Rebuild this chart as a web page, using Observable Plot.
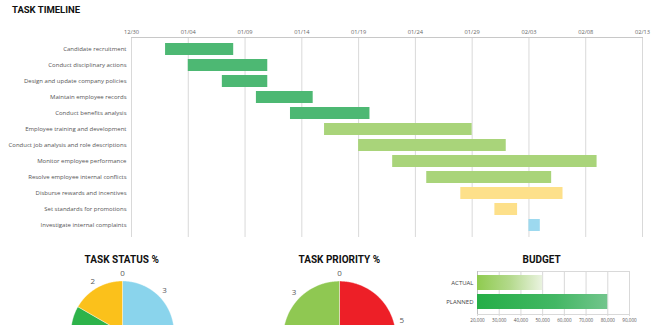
<!DOCTYPE html>
<html>
<head>
<meta charset="utf-8">
<script src="https://cdn.jsdelivr.net/npm/d3@7"></script>
<script src="https://cdn.jsdelivr.net/npm/@observablehq/plot@0.6"></script>
<style>
  body { margin: 0; background: #fff; }
  #root { position: relative; width: 667px; height: 325px; overflow: hidden; background: #fff; font-family: "Open Sans", sans-serif; }
  .abs { position: absolute; }
  .ttl { position: absolute; font-family: Roboto, sans-serif; font-weight: 700; color: #111; white-space: nowrap; line-height: 12px; height: 12px; }
  .ctr { transform: translateX(-50%); }
</style>
</head>
<body>
<div id="root">
  <svg class="abs" width="0" height="0" style="left:0;top:0">
    <defs>
      <linearGradient id="gActual" x1="0" x2="1" y1="0" y2="0">
        <stop offset="0" stop-color="#8fcb4f"/>
        <stop offset="0.5" stop-color="#b3d98b"/>
        <stop offset="1" stop-color="#eaf3e0"/>
      </linearGradient>
      <linearGradient id="gPlanned" x1="0" x2="1" y1="0" y2="0">
        <stop offset="0" stop-color="#25ae47"/>
        <stop offset="0.6" stop-color="#43b764"/>
        <stop offset="1" stop-color="#72c58c"/>
      </linearGradient>
    </defs>
  </svg>
  <div class="ttl" style="left:12px;top:4px;font-size:9.5px;">TASK TIMELINE</div>
  <div id="gantt" class="abs" style="left:0;top:0"></div>
  <div class="ttl ctr" style="left:121.7px;top:254px;font-size:10px;">TASK STATUS %</div>
  <div id="pie1" class="abs"></div>
  <div class="ttl ctr" style="left:339.3px;top:254px;font-size:10px;">TASK PRIORITY %</div>
  <div id="pie2" class="abs"></div>
  <div class="ttl ctr" style="left:541.7px;top:254px;font-size:10px;">BUDGET</div>
  <div id="budget" class="abs" style="left:420px;top:262px"></div>
</div>
<script>
// ---------- DATA ----------
const tasks = [
  "Candidate recruitment",
  "Conduct disciplinary actions",
  "Design and update company policies",
  "Maintain employee records",
  "Conduct benefits analysis",
  "Employee training and development",
  "Conduct job analysis and role descriptions",
  "Monitor employee performance",
  "Resolve employee internal conflicts",
  "Disburse rewards and incentives",
  "Set standards for promotions",
  "Investigate internal complaints"
];
const taskStarts = ["2020-01-02","2020-01-04","2020-01-07","2020-01-10","2020-01-13","2020-01-16",
                    "2020-01-19","2020-01-22","2020-01-25","2020-01-28","2020-01-31","2020-02-03"];
const taskEnds   = ["2020-01-08","2020-01-11","2020-01-11","2020-01-15","2020-01-20","2020-01-29",
                    "2020-02-01","2020-02-09","2020-02-05","2020-02-06","2020-02-02","2020-02-04"];
const taskPhases = ["Phase 1","Phase 1","Phase 1","Phase 1","Phase 1","Phase 2",
                    "Phase 2","Phase 2","Phase 2","Phase 3","Phase 3","Phase 4"];
const phases = ["Phase 1","Phase 2","Phase 3","Phase 4"];
const timelineTicks = ["2019-12-30","2020-01-04","2020-01-09","2020-01-14","2020-01-19",
                       "2020-01-24","2020-01-29","2020-02-03","2020-02-08","2020-02-13"];

const statusLabels = ["Complete","In progress","Not started","Overdue","On hold"];
const statusValues = [3, 4, 3, 2, 0];
const priorityLabels = ["High","Medium","Low","None"];
const priorityValues = [5, 4, 3, 0];

const budgetCategories = ["ACTUAL","PLANNED"];
const budgetValues = [50000, 80000];
const budgetTicks = [20000,30000,40000,50000,60000,70000,80000,90000];

// ---------- GANTT ----------
const toDate = s => new Date(s + "T00:00:00Z");
const ganttData = tasks.map((t, i) => ({task: t, start: toDate(taskStarts[i]), end: toDate(taskEnds[i]), phase: taskPhases[i]}));
const tickDates = timelineTicks.map(toDate);

const gantt = Plot.plot({
  width: 667, height: 240,
  marginLeft: 131, marginRight: 25, marginTop: 37, marginBottom: 3,
  style: {fontFamily: "'Open Sans', sans-serif", color: "#595959", background: "transparent", overflow: "visible"},
  x: {type: "utc", domain: [tickDates[0], tickDates[tickDates.length - 1]]},
  y: {domain: tasks, paddingInner: 0.24, paddingOuter: 0.18},
  color: {domain: phases, range: ["#4db873", "#a9d47a", "#fde08a", "#9dd9ef"]},
  marks: [
    Plot.ruleX(tickDates, {stroke: "#d9d9d9", strokeWidth: 1}),
    Plot.frame({anchor: "top", stroke: "#c8c8c8"}),
    Plot.barX(ganttData, {x1: "start", x2: "end", y: "task", fill: "phase"}),
    Plot.axisX({anchor: "top", ticks: tickDates, tickFormat: d3.utcFormat("%m/%d"), tickSize: 0, tickPadding: 4, fontSize: 5.7, label: null, fill: "#666"}),
    Plot.axisY({anchor: "left", tickSize: 0, tickPadding: 5, fontSize: 6, label: null, fill: "#555"})
  ]
});
document.getElementById("gantt").appendChild(gantt);

// ---------- PIES ----------
function pie(el, labels, values, colors, cx, cy, r) {
  const L = 75;
  const rows = labels.map((k, i) => ({k, v: values[i]}));
  const arcs = d3.pie().sort(null).value(d => d.v)(rows);
  const pts = [];
  arcs.filter(a => a.data.v > 0).forEach(a => {
    const n = Math.max(4, Math.ceil((a.endAngle - a.startAngle) / 0.01));
    pts.push({k: a.data.k, x: 0, y: 0});
    for (let i = 0; i <= n; i++) {
      const t = a.startAngle + (a.endAngle - a.startAngle) * i / n;
      pts.push({k: a.data.k, x: Math.sin(t), y: Math.cos(t)});
    }
    pts.push({k: a.data.k, x: 0, y: 0});
  });
  const lf = (r + 8) / r;
  const mid = a => (a.startAngle + a.endAngle) / 2;
  // only the upper half of each pie is inside the 325px-tall window
  const visibleLabels = arcs.filter(a => Math.cos(mid(a)) > 0);
  const p = Plot.plot({
    width: 2 * L, height: 325 - (cy - L), margin: 0,
    style: {background: "transparent"},
    x: {domain: [-L / r, L / r], range: [0, 2 * L], axis: null},
    y: {domain: [-L / r, L / r], range: [2 * L, 0], axis: null},
    color: {domain: labels, range: colors},
    marks: [
      Plot.line(pts, {x: "x", y: "y", z: "k", fill: "k", stroke: "#fff", strokeWidth: 0.4, curve: "linear"}),
      Plot.text(visibleLabels, {x: a => lf * Math.sin(mid(a)), y: a => lf * Math.cos(mid(a)), text: a => String(a.data.v),
        fill: "#595959", fontSize: 8, fontFamily: "'Open Sans', sans-serif"})
    ]
  });
  const host = document.getElementById(el);
  host.style.left = (cx - L) + "px";
  host.style.top = (cy - L) + "px";
  host.appendChild(p);
}
pie("pie1", statusLabels, statusValues, ["#8ad4ec", "#a5a5a5", "#2db34a", "#fbc11b", "#7f7f7f"], 122.3, 332.2, 51.5);
pie("pie2", priorityLabels, priorityValues, ["#ed1f27", "#fbc11b", "#8fc852", "#7f7f7f"], 339.3, 337.4, 56.4);

// ---------- BUDGET ----------
const budgetData = budgetCategories.map((c, i) => ({cat: c, value: budgetValues[i]}));
const gradFor = {ACTUAL: "url(#gActual)", PLANNED: "url(#gPlanned)"};
const budget = Plot.plot({
  width: 220, height: 63,
  marginLeft: 57, marginRight: 11, marginTop: 9, marginBottom: 11,
  style: {fontFamily: "'Open Sans', sans-serif", color: "#595959", background: "transparent"},
  x: {domain: [budgetTicks[0], budgetTicks[budgetTicks.length - 1]]},
  y: {domain: budgetCategories, padding: 0.2},
  color: {type: "identity"},
  marks: [
    Plot.ruleX(budgetTicks, {stroke: "#d9d9d9"}),
    Plot.frame({stroke: "#d9d9d9"}),
    Plot.ruleX([budgetTicks[0]], {stroke: "#bfbfbf"}),
    Plot.barX(budgetData, {x1: budgetTicks[0], x2: "value", y: "cat", fill: d => gradFor[d.cat]}),
    Plot.axisX({ticks: budgetTicks, tickFormat: d3.format(","), tickSize: 2, tickPadding: 2, fontSize: 4.6, label: null, fill: "#555", stroke: "#d9d9d9"}),
    Plot.axisY({tickSize: 0, tickPadding: 4, fontSize: 6, label: null, fill: "#444"})
  ]
});
document.getElementById("budget").appendChild(budget);
</script>
</body>
</html>
